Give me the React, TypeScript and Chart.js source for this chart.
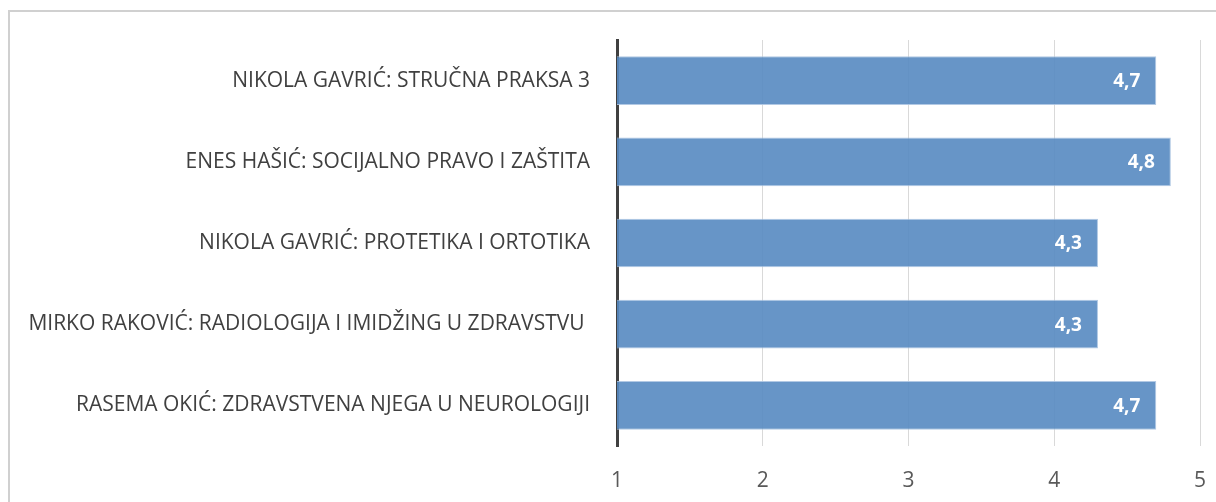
import React, { useEffect, useRef } from "react";
import { Chart, registerables } from "chart.js";

Chart.register(...registerables);

const categories: string[] = [
  "NIKOLA GAVRIĆ: STRUČNA PRAKSA 3",
  "ENES HAŠIĆ: SOCIJALNO PRAVO I ZAŠTITA",
  "NIKOLA GAVRIĆ: PROTETIKA I ORTOTIKA",
  "MIRKO RAKOVIĆ: RADIOLOGIJA I IMIDŽING U ZDRAVSTVU ",
  "RASEMA OKIĆ: ZDRAVSTVENA NJEGA U NEUROLOGIJI",
];
const values: number[] = [4.7, 4.8, 4.3, 4.3, 4.7];
const xTicks: number[] = [1, 2, 3, 4, 5];

const FONT = "'Open Sans', sans-serif";

const labelPlugin = {
  id: "barValueLabels",
  afterDatasetsDraw(chart: any) {
    const ctx = chart.ctx;
    const meta = chart.getDatasetMeta(0);
    ctx.save();
    ctx.fillStyle = "#ffffff";
    ctx.font = `bold 19px ${FONT}`;
    ctx.textAlign = "right";
    ctx.textBaseline = "middle";
    meta.data.forEach((bar: any, i: number) => {
      const txt = values[i].toFixed(1).replace(".", ",");
      ctx.fillText(txt, bar.x - 16, bar.y + 1);
    });
    ctx.restore();
  },
};

export default function App() {
  const ref = useRef<HTMLCanvasElement | null>(null);
  useEffect(() => {
    if (!ref.current) return;
    const chart = new Chart(ref.current, {
      type: "bar",
      data: {
        labels: categories,
        datasets: [
          {
            data: values,
            backgroundColor: "rgba(87,137,193,0.9)",
            borderColor: "rgba(170,195,225,0.9)",
            borderWidth: 1,
            categoryPercentage: 1,
            barPercentage: 0.6,
          },
        ],
      },
      options: {
        indexAxis: "y",
        animation: false,
        responsive: false,
        maintainAspectRatio: false,
        layout: { padding: { left: 0, right: 16, top: 40, bottom: 0 } },
        plugins: {
          legend: { display: false },
          tooltip: { enabled: false },
        },
        scales: {
          x: {
            min: 1,
            max: 5,
            afterBuildTicks: (scale: any) => {
              scale.ticks = xTicks.map((v) => ({ value: v }));
            },
            afterFit: (scale: any) => {
              scale.height = 56;
              scale.paddingLeft = 0;
              scale.paddingRight = 0;
            },
            grid: { color: "#d9d9d9", lineWidth: 1, drawTicks: false },
            border: { display: false },
            ticks: {
              color: "#595959",
              font: { family: FONT, size: 21 },
              padding: 22,
            },
          },
          y: {
            afterFit: (scale: any) => {
              scale.width = 617;
              scale.paddingTop = 0;
              scale.paddingBottom = 0;
            },
            grid: { display: false, drawTicks: false },
            border: { display: true, color: "#404040", width: 3 },
            ticks: {
              color: "#404040",
              font: { family: FONT, size: 21 },
              padding: 27,
            },
          },
        },
      },
      plugins: [labelPlugin],
    });
    return () => chart.destroy();
  }, []);

  return (
    <div style={{ position: "fixed", left: 0, top: 0, width: 1216, height: 502, overflow: "hidden", background: "#fff" }}>
      <div
        style={{
          position: "absolute",
          left: 8,
          top: 10,
          width: 1208,
          height: 492,
          borderLeft: "2px solid #d0d0d0",
          borderTop: "2px solid #d0d0d0",
          boxSizing: "border-box",
        }}
      />
      <canvas ref={ref} width={1216} height={502} style={{ position: "absolute", left: 0, top: 0 }} />
    </div>
  );
}
